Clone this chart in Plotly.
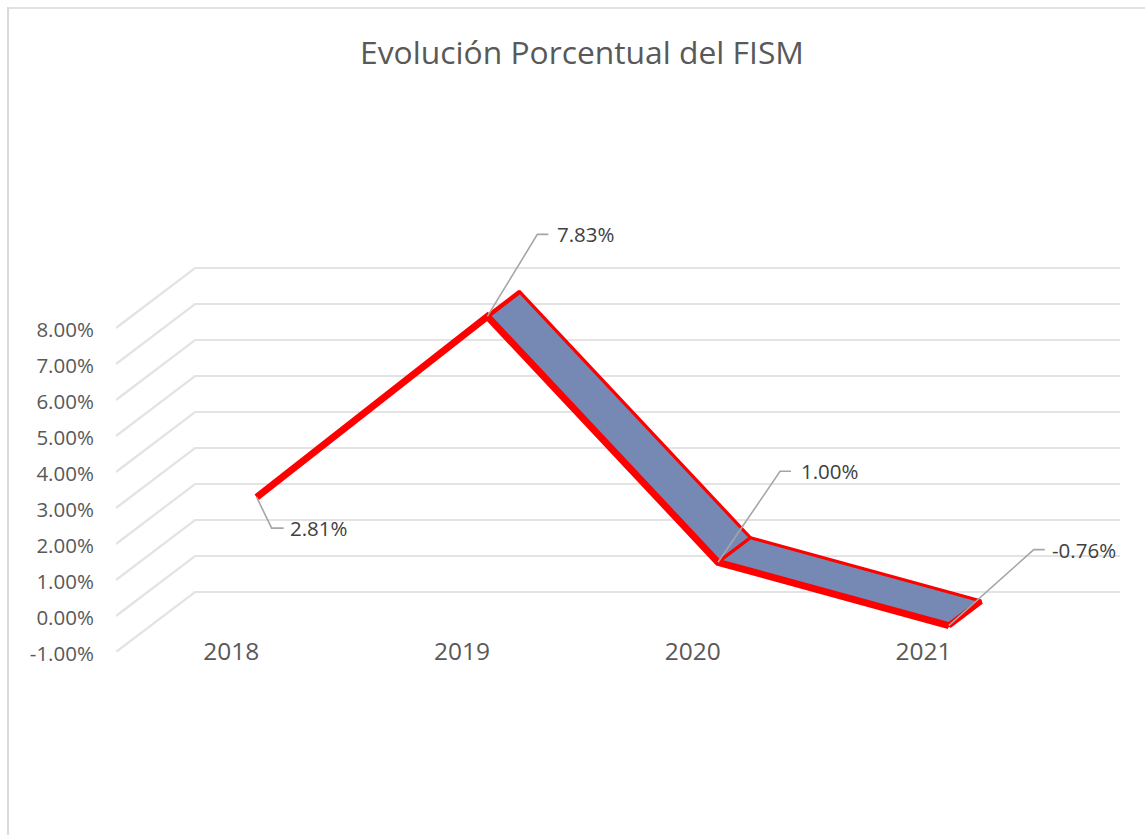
import plotly.graph_objects as go

# ---- data ----
years = ["2018", "2019", "2020", "2021"]
pct_values = [2.81, 7.83, 1.00, -0.76]
value_ticks = [-1, 0, 1, 2, 3, 4, 5, 6, 7, 8]
value_tick_labels = ["-1.00%", "0.00%", "1.00%", "2.00%", "3.00%", "4.00%", "5.00%", "6.00%", "7.00%", "8.00%"]
data_labels = ["2.81%", "7.83%", "1.00%", "-0.76%"]
title_text = "Evolución Porcentual del FISM"

# ---- oblique 3D projection (pixels of depth) ----
PX_X = 230.7   # pixels per category
PX_Y = 36.0    # pixels per 1%
FLOOR_PX = 652
LEFT_PX = 116
RIGHT_PX = 1120
TOP_PX = 200
W, H = 1145, 835
WALL_DX, WALL_DY = 79 / PX_X, 60 / PX_Y          # full depth of the box
RIB_FRONT = 0.295                                 # ribbon depth start
RIB_BACK = 0.705                                  # ribbon depth end
RIB_NUDGE = 2 / PX_X                              # small sideways offset of the ribbon

GRID = "#E3E3E3"
RED = "#FF0000"
FILL = "#7589B4"
LEAD = "#A6A6A6"

xs = list(range(len(years)))
def proj(i, v, d):
    return i + d * WALL_DX + RIB_NUDGE, v + d * WALL_DY

x_range = [-0.5, -0.5 + (RIGHT_PX - LEFT_PX) / PX_X]
y_range = [-1, -1 + (FLOOR_PX - TOP_PX) / PX_Y]

fig = go.Figure()

# gridlines: side wall + back wall
for v in value_ticks:
    fig.add_trace(go.Scatter(
        x=[-0.5, -0.5 + WALL_DX, x_range[1]],
        y=[v, v + WALL_DY, v + WALL_DY],
        mode="lines", line=dict(color=GRID, width=2.2), hoverinfo="skip", showlegend=False))

front = [proj(i, v, RIB_FRONT) for i, v in zip(xs, pct_values)]
back = [proj(i, v, RIB_BACK) for i, v in zip(xs, pct_values)]

# ribbon surfaces (drawn back to front, from the first visible segment on)
for k in range(1, len(xs) - 1):
    px = [front[k][0], back[k][0], back[k + 1][0], front[k + 1][0], front[k][0]]
    py = [front[k][1], back[k][1], back[k + 1][1], front[k + 1][1], front[k][1]]
    fig.add_trace(go.Scatter(
        x=px, y=py, mode="lines", fill="toself", fillcolor=FILL,
        line=dict(color=RED, width=3.2), hoverinfo="skip", showlegend=False))

# the depth edge of the edge-on first segment
fig.add_trace(go.Scatter(
    x=[front[1][0], back[1][0]], y=[front[1][1], back[1][1]],
    mode="lines", line=dict(color=RED, width=4.5), hoverinfo="skip", showlegend=False))
# closing end of the ribbon
fig.add_trace(go.Scatter(
    x=[front[-1][0], back[-1][0]], y=[front[-1][1], back[-1][1]],
    mode="lines", line=dict(color=RED, width=6), hoverinfo="skip", showlegend=False))
# thick front edge
fig.add_trace(go.Scatter(
    x=[p[0] for p in front], y=[p[1] for p in front],
    mode="lines", line=dict(color=RED, width=7), hoverinfo="skip", showlegend=False))

# leader lines and data labels (offsets in pixels from the ribbon's front edge)
leader_offsets = [
    [(0, 0), (15, 31), (27, 31)],
    [(0, 0), (50, -82), (61, -82)],
    [(0, 0), (62, -91), (73, -91)],
    [(0, 0), (85, -76), (96, -76)],
]
label_shift = [31, 68, 81, 101]
label_yshift = [31, -82, -91, -76]

annotations = []
for k, offs in enumerate(leader_offsets):
    fig.add_trace(go.Scatter(
        x=[front[k][0] + o[0] / PX_X for o in offs],
        y=[front[k][1] - o[1] / PX_Y for o in offs],
        mode="lines", line=dict(color=LEAD, width=1.6), hoverinfo="skip", showlegend=False))
    annotations.append(dict(
        x=front[k][0], y=front[k][1], xref="x", yref="y", text=data_labels[k], showarrow=False,
        xanchor="left", yanchor="middle", xshift=label_shift[k], yshift=-label_yshift[k],
        font=dict(family="Open Sans", size=20.5, color="#404040")))

plot_w, plot_h = RIGHT_PX - LEFT_PX, FLOOR_PX - TOP_PX
def paper_x(px): return (px - LEFT_PX) / plot_w
def paper_y(py): return (FLOOR_PX - py) / plot_h
border = [
    dict(type="line", xref="paper", yref="paper", x0=paper_x(8), x1=paper_x(8), y0=paper_y(7), y1=paper_y(835),
         line=dict(color="#D9D9D9", width=2)),
    dict(type="line", xref="paper", yref="paper", x0=paper_x(7), x1=paper_x(1145), y0=paper_y(8), y1=paper_y(8),
         line=dict(color="#D9D9D9", width=1.5)),
]

fig.update_layout(
    width=W, height=H, autosize=False,
    margin=dict(l=LEFT_PX, r=W - RIGHT_PX, t=TOP_PX, b=H - FLOOR_PX, pad=0),
    paper_bgcolor="white", plot_bgcolor="rgba(0,0,0,0)",
    title=dict(text=title_text, x=582 / W, xanchor="center", y=1 - 53 / H, yanchor="middle",
               font=dict(family="Open Sans", size=31.8, color="#595959")),
    xaxis=dict(range=x_range, tickmode="array", tickvals=xs, ticktext=years,
               showgrid=False, zeroline=False, showline=False, ticks="",
               anchor="free", position=paper_y(634), automargin=False,
               tickfont=dict(family="Open Sans", size=24.5, color="#595959")),
    yaxis=dict(range=y_range, tickmode="array", tickvals=value_ticks, ticktext=value_tick_labels,
               showgrid=False, zeroline=False, showline=False, ticks="outside", ticklen=17,
               tickcolor="rgba(0,0,0,0)", automargin=False, ticklabelshift=2,
               tickfont=dict(family="Open Sans", size=20.5, color="#595959")),
    annotations=annotations, shapes=border, showlegend=False,
)

fig.write_html("out.html", config={"displayModeBar": False},
               post_script="document.body.style.margin='0';document.documentElement.style.overflow='hidden';")
